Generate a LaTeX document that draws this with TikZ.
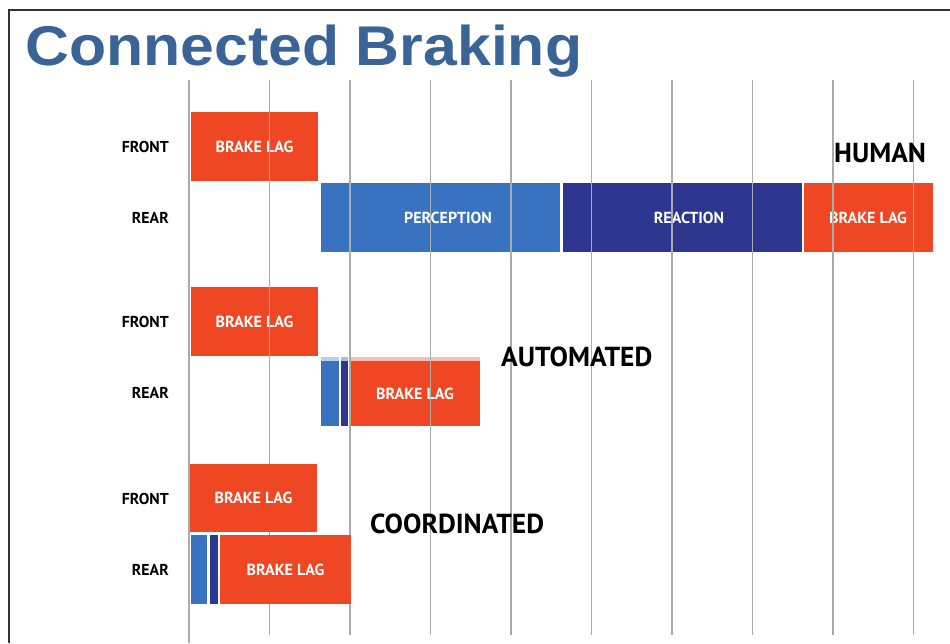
\documentclass[tikz,border=0pt]{standalone}
\usepackage{fontspec}
\setmainfont{Liberation Sans}
\newfontfamily\labfont{PT Sans}
\definecolor{titleblue}{HTML}{3A6496}
\definecolor{brakeorange}{HTML}{EF4723}
\definecolor{percblue}{HTML}{3872C0}
\definecolor{reacnavy}{HTML}{2D3790}
\definecolor{gridgrey}{HTML}{ABABAB}
\tikzset{
  barbox/.style={draw=none, anchor=north west, inner sep=0pt, outer sep=0pt, text=white,
    font=\labfont\bfseries\fontsize{16}{18}\selectfont},
  rowlab/.style={anchor=east, inner sep=0pt, font=\labfont\bfseries\fontsize{15.8}{18}\selectfont},
  modelab/.style={anchor=west, inner sep=0pt, font=\labfont\bfseries\fontsize{27.5}{30}\selectfont},
  gridline/.style={draw=gridgrey, line width=1.1pt},
}
\begin{document}
\begin{tikzpicture}[x=1pt,y=-1pt]
\useasboundingbox (0,0) rectangle (950,643);
\fill[white] (0,0) rectangle (950,643);
% frame
\draw[line width=1.6pt, draw=black!80] (9,643) -- (9,10) -- (950,10);
% title
\node[anchor=base west, inner sep=0pt, text=titleblue, xscale=1.085,
  font=\bfseries\fontsize{56}{60}\selectfont] (title) at (25,65) {Connected Braking};

% ---------- HUMAN ----------
\node[rowlab] (hfront) at (169,147) {FRONT};
\node[rowlab] (hrear) at (169,218) {REAR};
\node[barbox, fill=brakeorange, minimum width=127pt, minimum height=69pt] (hfb) at (191,112) {BRAKE LAG};
\node[barbox, fill=percblue, minimum width=239pt, minimum height=69pt] (hpb) at (321,183) {};
\node[barbox, fill=reacnavy, minimum width=239pt, minimum height=69pt] (hrb) at (563,183) {};
\node[barbox, fill=brakeorange, minimum width=129pt, minimum height=69pt] (hbb) at (804,183) {};
\node[barbox, anchor=center] (hpt) at (448,218) {PERCEPTION};
\node[barbox, anchor=center] (hrt) at (689,218) {REACTION};
\node[barbox, anchor=center] (hbt) at (868,218) {BRAKE LAG};

% ---------- AUTOMATED ----------
\node[rowlab] (afront) at (169,322) {FRONT};
\node[rowlab] (arear) at (169,393) {REAR};
\node[barbox, fill=brakeorange, minimum width=127pt, minimum height=69pt] (afb) at (191,287) {BRAKE LAG};
\fill[percblue!35] (321,357) rectangle (339,361);
\fill[reacnavy!35] (341,357) rectangle (348,361);
\fill[brakeorange!35] (350,357) rectangle (480,361);
\node[barbox, fill=percblue, minimum width=18pt, minimum height=65pt] (apb) at (321,361) {};
\node[barbox, fill=reacnavy, minimum width=7pt, minimum height=65pt] (arb) at (341,361) {};
\node[barbox, fill=brakeorange, minimum width=130pt, minimum height=65pt] (abb) at (350,361) {BRAKE LAG};

% ---------- grid (over upper bars) ----------
\draw[gridline] (189,80) -- (189,643);
\foreach \gx in {269.5,350,430.5,511,591.5,672,752.5,833,913.5}
  \draw[gridline] (\gx,80) -- (\gx,635);

% mode labels
\node[modelab] (human) at (834,153) {HUMAN};
\node[modelab] (auto) at (501,357) {AUTOMATED};
\node[modelab] (coord) at (370,524) {COORDINATED};

% ---------- COORDINATED ----------
\node[rowlab] (cfront) at (169,499) {FRONT};
\node[rowlab] (crear) at (169,570) {REAR};
\node[barbox, fill=brakeorange, minimum width=127pt, minimum height=68pt] (cfb) at (190,464) {BRAKE LAG};
\node[barbox, fill=percblue, minimum width=16pt, minimum height=69pt] (cpb) at (191,535) {};
\node[barbox, fill=reacnavy, minimum width=8pt, minimum height=69pt] (crb) at (210,535) {};
\node[barbox, fill=brakeorange, minimum width=131pt, minimum height=69pt] (cbb) at (220,535) {BRAKE LAG};
\end{tikzpicture}
\end{document}
